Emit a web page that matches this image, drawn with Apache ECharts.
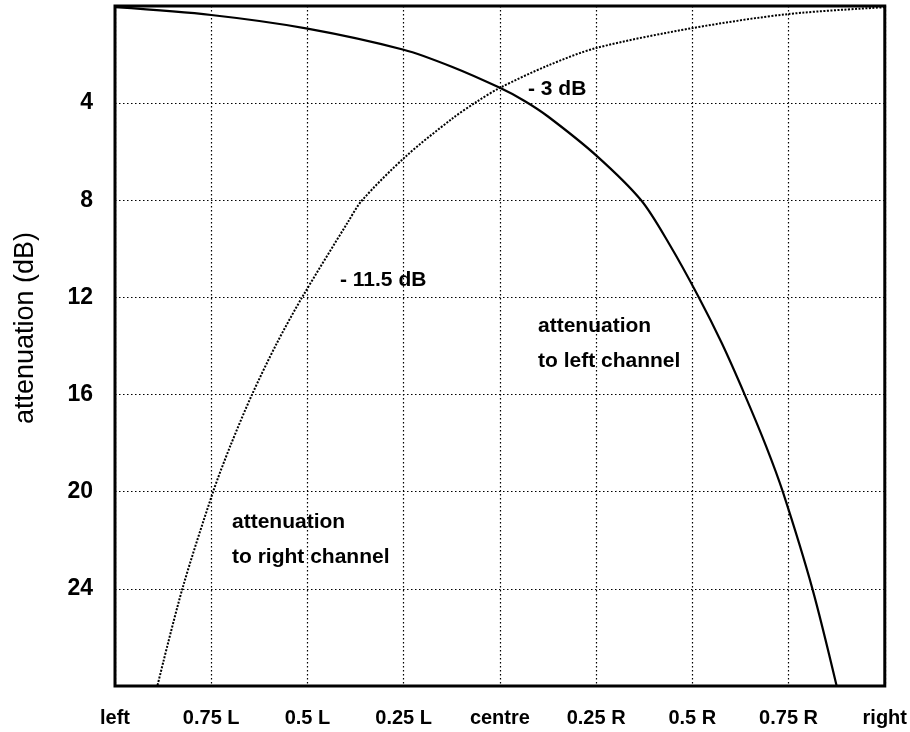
<!DOCTYPE html>
<html>
<head>
<meta charset="utf-8">
<script src="https://cdn.jsdelivr.net/npm/echarts@6/dist/echarts.min.js"></script>
<style>
html,body{margin:0;padding:0;background:#fff;}
#chart{width:910px;height:732px;}
</style>
</head>
<body>
<div id="chart"></div>
<script>
// Pan position axis: -1 = left, 0 = centre, 1 = right
var xTickLabels = ['left', '0.75 L', '0.5 L', '0.25 L', 'centre', '0.25 R', '0.5 R', '0.75 R', 'right'];

// attenuation to left channel (solid curve)
var leftPos   = [-1, -0.75, -0.5, -0.25, -0.125, 0, 0.063, 0.125, 0.25, 0.367, 0.44, 0.517, 0.577, 0.636, 0.691, 0.735, 0.812, 0.875];
var leftAtten = [0.05, 0.37, 0.93, 1.8, 2.5, 3.37, 3.9, 4.55, 6.15, 8.0, 9.8, 12.0, 13.9, 16.0, 18.1, 20.0, 24.0, 28.0];

// attenuation to right channel (dotted curve)
var rightPos   = [1, 0.75, 0.5, 0.25, 0.125, 0, -0.061, -0.125, -0.245, -0.358, -0.395, -0.514, -0.58, -0.644, -0.70, -0.745, -0.825, -0.89];
var rightAtten = [0.05, 0.33, 0.91, 1.73, 2.45, 3.37, 3.95, 4.65, 6.2, 8.0, 8.9, 12.0, 13.9, 16.0, 18.1, 20.0, 24.0, 28.0];

function zip(a, b) { return a.map(function (v, i) { return [v, b[i]]; }); }

var FONT = "'Liberation Sans', Arial, Helvetica, sans-serif";
var chart = echarts.init(document.getElementById('chart'), null, {renderer: 'canvas'});

chart.setOption({
  backgroundColor: '#ffffff',
  animation: false,
  grid: {
    left: 115, right: 24, top: 6, bottom: 46,
    show: true, borderColor: '#000', borderWidth: 3, backgroundColor: 'transparent'
  },
  xAxis: {
    type: 'value', min: -1, max: 1, interval: 0.25,
    axisLine: {show: false},
    axisTick: {show: false},
    axisLabel: {
      margin: 22, color: '#000', fontFamily: FONT, fontWeight: 'bold', fontSize: 20,
      formatter: function (v) { return xTickLabels[Math.round((v + 1) / 0.25)]; }
    },
    splitLine: {show: true, lineStyle: {color: '#000', width: 1.2, type: [1.5, 2.5]}}
  },
  yAxis: {
    type: 'value', min: 0, max: 28, interval: 4, inverse: true,
    axisLine: {show: false},
    axisTick: {show: false},
    axisLabel: {
      margin: 22, color: '#000', fontFamily: FONT, fontWeight: 'bold', fontSize: 23,
      showMinLabel: false, showMaxLabel: false
    },
    splitLine: {show: true, lineStyle: {color: '#000', width: 1.2, type: [1.5, 2.5]}}
  },
  series: [
    {
      name: 'attenuation to left channel', type: 'line',
      data: zip(leftPos, leftAtten),
      smooth: 0.3, showSymbol: false, clip: true,
      lineStyle: {color: '#000', width: 2.2, type: 'solid'}
    },
    {
      name: 'attenuation to right channel', type: 'line',
      data: zip(rightPos, rightAtten),
      smooth: 0.3, showSymbol: false, clip: true,
      lineStyle: {color: '#000', width: 2, type: [2, 1.5]}
    }
  ],
  graphic: [
    {type: 'text', left: 12, top: 232, rotation: Math.PI / 2,
      style: {text: 'attenuation (dB)', fill: '#000', font: '27px ' + FONT}},
    {type: 'text', x: 528, y: 89,
      style: {text: '- 3 dB', fill: '#000', font: 'bold 21px ' + FONT, textVerticalAlign: 'middle'}},
    {type: 'text', x: 340, y: 280,
      style: {text: '- 11.5 dB', fill: '#000', font: 'bold 21px ' + FONT, textVerticalAlign: 'middle'}},
    {type: 'text', x: 538, y: 309,
      style: {text: 'attenuation\nto left channel', fill: '#000', font: 'bold 21px ' + FONT, lineHeight: 35}},
    {type: 'text', x: 232, y: 505,
      style: {text: 'attenuation\nto right channel', fill: '#000', font: 'bold 21px ' + FONT, lineHeight: 35}}
  ]
});
</script>
</body>
</html>
